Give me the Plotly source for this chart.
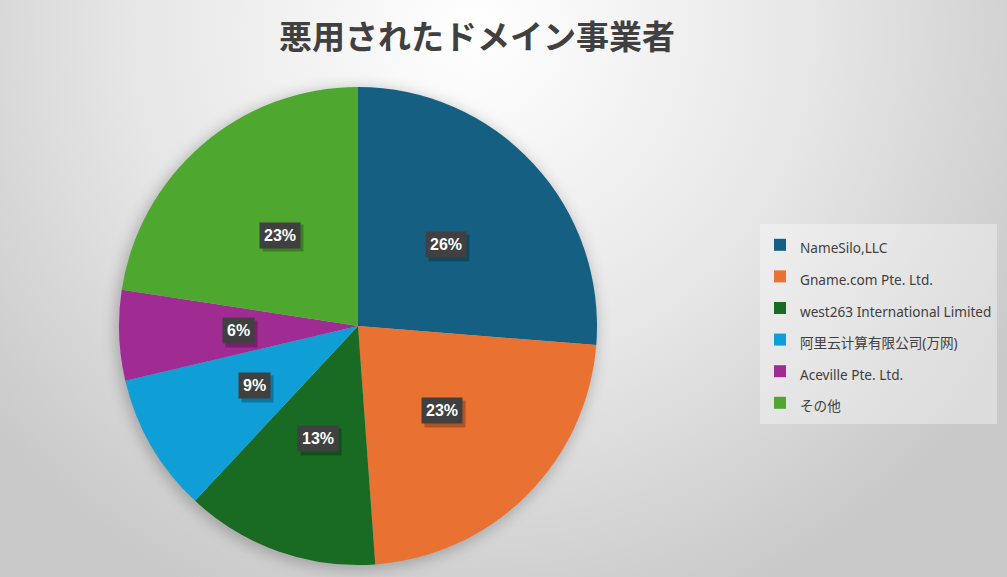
import math, base64
import plotly.graph_objects as go

categories = ["NameSilo,LLC", "Gname.com Pte. Ltd.", "west263 International Limited",
              "阿里云计算有限公司(万网)", "Aceville Pte. Ltd.", "その他"]
values = [26.3, 22.6, 13.1, 9.4, 6.1, 22.6]
colors = ["#156082", "#E97132", "#196B24", "#0F9ED5", "#A02B93", "#4EA72E"]
title_text = "悪用されたドメイン事業者"

W, H = 1007, 577
CX, CY, R = 358, 326, 239  # pie centre / radius in pixels

# background: radial gradient + soft pie shadow
svg = f'''<svg xmlns="http://www.w3.org/2000/svg" width="{W}" height="{H}" viewBox="0 0 {W} {H}">
<defs>
<radialGradient id="g" cx="{W*0.47}" cy="{H*0.05}" r="{W*0.62}" gradientUnits="userSpaceOnUse">
<stop offset="0" stop-color="#ffffff"/><stop offset="0.55" stop-color="#e6e6e6"/><stop offset="1" stop-color="#c9c9c9"/>
</radialGradient>
<filter id="b" x="-20%" y="-20%" width="140%" height="140%"><feGaussianBlur stdDeviation="7"/></filter>
</defs>
<rect width="{W}" height="{H}" fill="url(#g)"/>
<circle cx="{CX-2}" cy="{CY+3}" r="{R+2}" fill="rgba(0,0,0,0.22)" filter="url(#b)"/>
</svg>'''
bg_src = "data:image/svg+xml;base64," + base64.b64encode(svg.encode("utf-8")).decode()

legend_labels = [f'<span style="font-size:13.6px">{c}</span>' for c in categories]

fig = go.Figure(go.Pie(
    labels=legend_labels, values=values, sort=False, direction="clockwise",
    marker=dict(colors=colors, line=dict(width=0)),
    textinfo="none", hovertemplate="%{label}: %{percent}<extra></extra>",
    domain=dict(x=[(CX - R) / W, (CX + R) / W], y=[(H - CY - R) / H, (H - CY + R) / H]),
))

# percentage label boxes at mid-angle, half radius
total = sum(values)
annotations = []
cum = 0
for v in values:
    mid = (cum + v / 2) / total * 2 * math.pi
    cum += v
    px = (CX + 0.5 * R * math.sin(mid)) / W
    py = (H - CY + 0.5 * R * math.cos(mid)) / H
    txt = f"{round(v / total * 100)}%"
    common = dict(x=px, y=py, xref="paper", yref="paper", showarrow=False,
                  borderpad=4, xanchor="center", yanchor="middle")
    # drop shadow box (no text)
    annotations.append(dict(common, bgcolor="rgba(0,0,0,0.25)", xshift=3, yshift=-3, text=" ",
                            width=8.9 * (len(txt) - 1) + 14.2, height=18,
                            font=dict(family="Liberation Sans, Arial", size=16, color="rgba(0,0,0,0)")))
    annotations.append(dict(common, bgcolor="#404040", text=f"<b>{txt}</b>",
                            font=dict(family="Liberation Sans, Arial", size=16, color="#ffffff")))

fig.update_layout(
    width=W, height=H, margin=dict(l=0, r=0, t=0, b=0),
    paper_bgcolor="#e0e0e0",
    images=[dict(source=bg_src, xref="paper", yref="paper", x=0, y=1, sizex=1, sizey=1,
                 sizing="stretch", layer="below", xanchor="left", yanchor="top")],
    title=dict(text=f"<b>{title_text}</b>", x=477 / W, xanchor="center", y=1 - 37 / H, yanchor="middle",
               font=dict(family="Noto Sans CJK JP", size=33, color="#404040")),
    legend=dict(x=760 / W, y=1 - 224 / H, xanchor="left", yanchor="top",
                bgcolor="rgba(255,255,255,0.35)", borderwidth=0,
                font=dict(family="Noto Sans, Noto Sans CJK JP", size=22, color="#404040")),
    annotations=annotations,
)
fig.write_html("out.html", config={"displayModeBar": False},
               post_script="document.body.style.margin='0';document.body.style.overflow='hidden';")
